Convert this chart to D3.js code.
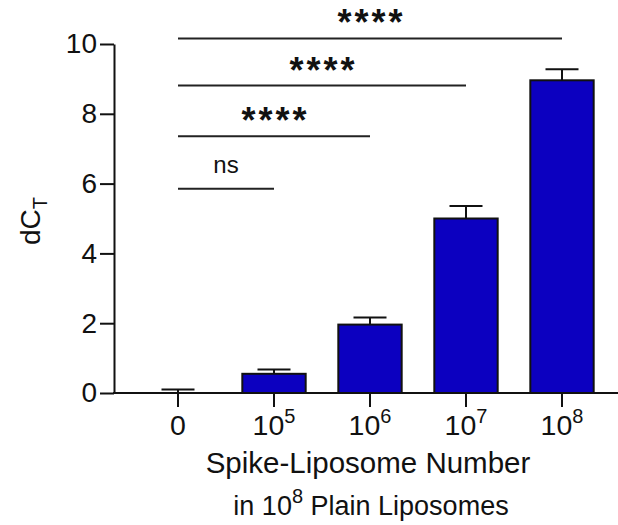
<!DOCTYPE html>
<html>
<head>
<meta charset="utf-8">
<script src="https://cdn.jsdelivr.net/npm/d3@7"></script>
<style>
  body { margin: 0; background: #fff; }
  text { font-family: "Liberation Sans", Arial, Helvetica, sans-serif; fill: #111; }
</style>
</head>
<body>
<svg id="chart" width="618" height="525"></svg>
<script>
// groups on the x axis (base + exponent, "0" has no exponent)
var groupBase = ["0", "10", "10", "10", "10"];
var groupExp = ["", "5", "6", "7", "8"];
var groupKeys = ["0", "1e5", "1e6", "1e7", "1e8"];
// mean dCT and error (upper bar only)
var meanValues = [0, 0.55, 1.96, 5.0, 8.96];
var errValues = [0.1, 0.12, 0.2, 0.36, 0.32];
// significance brackets: from group 0 to target group, at height (data units)
var sigTargets = ["1e5", "1e6", "1e7", "1e8"];
var sigHeights = [5.85, 7.36, 8.81, 10.16];
var sigLabels = ["ns", "****", "****", "****"];
var yTicks = [0, 2, 4, 6, 8, 10];

var svg = d3.select("#chart");

var x = d3.scaleBand()
    .domain(groupKeys)
    .range([130, 610])
    .paddingInner(0.34)
    .paddingOuter(0.17);

var y = d3.scaleLinear()
    .domain([0, 10])
    .range([393, 44]);

//////// y axis ////////
var yAxis = d3.axisLeft(y)
    .tickValues(yTicks)
    .tickSize(14)
    .tickPadding(3)
    .tickSizeOuter(0);

var yg = svg.append("g")
    .attr("transform", "translate(114,0)")
    .call(yAxis);
yg.select(".domain").attr("stroke", "#111").attr("stroke-width", 2);
yg.selectAll(".tick line").attr("stroke", "#111").attr("stroke-width", 2);
yg.selectAll(".tick text")
    .attr("font-size", 28)
    .attr("font-family", "Liberation Sans, Arial, sans-serif")
    .attr("fill", "#111");

//////// x axis ////////
var xg = svg.append("g").attr("transform", "translate(0,393)");
// axis line runs from the y axis to the edge
xg.append("line")
    .attr("x1", 113).attr("x2", 618)
    .attr("stroke", "#111").attr("stroke-width", 2);

var xt = xg.selectAll(".xtick")
    .data(groupKeys)
    .enter().append("g")
    .attr("class", "xtick")
    .attr("transform", function(d) { return "translate(" + (x(d) + x.bandwidth() / 2) + ",0)"; });

xt.append("line")
    .attr("y1", 0).attr("y2", 14)
    .attr("stroke", "#111").attr("stroke-width", 2);

var xLabel = xt.append("text")
    .attr("y", 42)
    .attr("text-anchor", "middle")
    .attr("font-size", 28.5);
xLabel.append("tspan").text(function(d, i) { return groupBase[i]; });
xLabel.append("tspan")
    .attr("dy", -12)
    .attr("font-size", 20)
    .text(function(d, i) { return groupExp[i]; });

//////// bars ////////
svg.selectAll(".bar")
    .data(groupKeys)
    .enter().append("rect")
    .attr("class", "bar")
    .attr("x", function(d) { return x(d); })
    .attr("width", x.bandwidth())
    .attr("y", function(d, i) { return y(meanValues[i]); })
    .attr("height", function(d, i) { return y(0) - y(meanValues[i]); })
    .attr("fill", "#0c00c0")
    .attr("stroke", "#111")
    .attr("stroke-width", 2);

//////// error bars ////////
var capHalf = 16.5;
var eb = svg.selectAll(".err")
    .data(groupKeys)
    .enter().append("g")
    .attr("class", "err");

eb.append("line")
    .attr("x1", function(d) { return x(d) + x.bandwidth() / 2; })
    .attr("x2", function(d) { return x(d) + x.bandwidth() / 2; })
    .attr("y1", function(d, i) { return y(meanValues[i]); })
    .attr("y2", function(d, i) { return y(meanValues[i] + errValues[i]); })
    .attr("stroke", "#111").attr("stroke-width", 2);

eb.append("line")
    .attr("x1", function(d) { return x(d) + x.bandwidth() / 2 - capHalf; })
    .attr("x2", function(d) { return x(d) + x.bandwidth() / 2 + capHalf; })
    .attr("y1", function(d, i) { return y(meanValues[i] + errValues[i]); })
    .attr("y2", function(d, i) { return y(meanValues[i] + errValues[i]); })
    .attr("stroke", "#111").attr("stroke-width", 2);

//////// significance ////////
var x0 = x(groupKeys[0]) + x.bandwidth() / 2;
var sig = svg.selectAll(".sig")
    .data(sigTargets)
    .enter().append("g")
    .attr("class", "sig");

sig.append("line")
    .attr("x1", x0)
    .attr("x2", function(d) { return x(d) + x.bandwidth() / 2; })
    .attr("y1", function(d, i) { return y(sigHeights[i]); })
    .attr("y2", function(d, i) { return y(sigHeights[i]); })
    .attr("stroke", "#222").attr("stroke-width", 2);

sig.append("text")
    .attr("x", function(d, i) {
        var mid = (x0 + x(d) + x.bandwidth() / 2) / 2;
        return sigLabels[i] == "ns" ? mid : mid + 1.5;
    })
    .attr("y", function(d, i) { return sigLabels[i] == "ns" ? y(sigHeights[i]) - 16 : y(sigHeights[i]) - 3; })
    .attr("text-anchor", "middle")
    .attr("font-size", function(d, i) { return sigLabels[i] == "ns" ? 24 : 36; })
    .attr("letter-spacing", function(d, i) { return sigLabels[i] == "ns" ? 0 : 3; })
    .attr("font-weight", function(d, i) { return sigLabels[i] == "ns" ? "normal" : "bold"; })
    .text(function(d, i) { return sigLabels[i]; });

//////// axis titles ////////
var yTitle = svg.append("text")
    .attr("transform", "translate(40,221) rotate(-90)")
    .attr("text-anchor", "middle")
    .attr("font-size", 28);
yTitle.append("tspan").text("dC");
yTitle.append("tspan").attr("dy", 7).attr("font-size", 20).text("T");

svg.append("text")
    .attr("x", 368)
    .attr("y", 473)
    .attr("text-anchor", "middle")
    .attr("font-size", 29.5)
    .text("Spike-Liposome Number");

var t2 = svg.append("text")
    .attr("x", 371)
    .attr("y", 515)
    .attr("text-anchor", "middle")
    .attr("font-size", 27);
t2.append("tspan").text("in 10");
t2.append("tspan").attr("dy", -12).attr("font-size", 20).text("8");
t2.append("tspan").attr("dy", 12).text(" Plain Liposomes");
</script>
</body>
</html>
